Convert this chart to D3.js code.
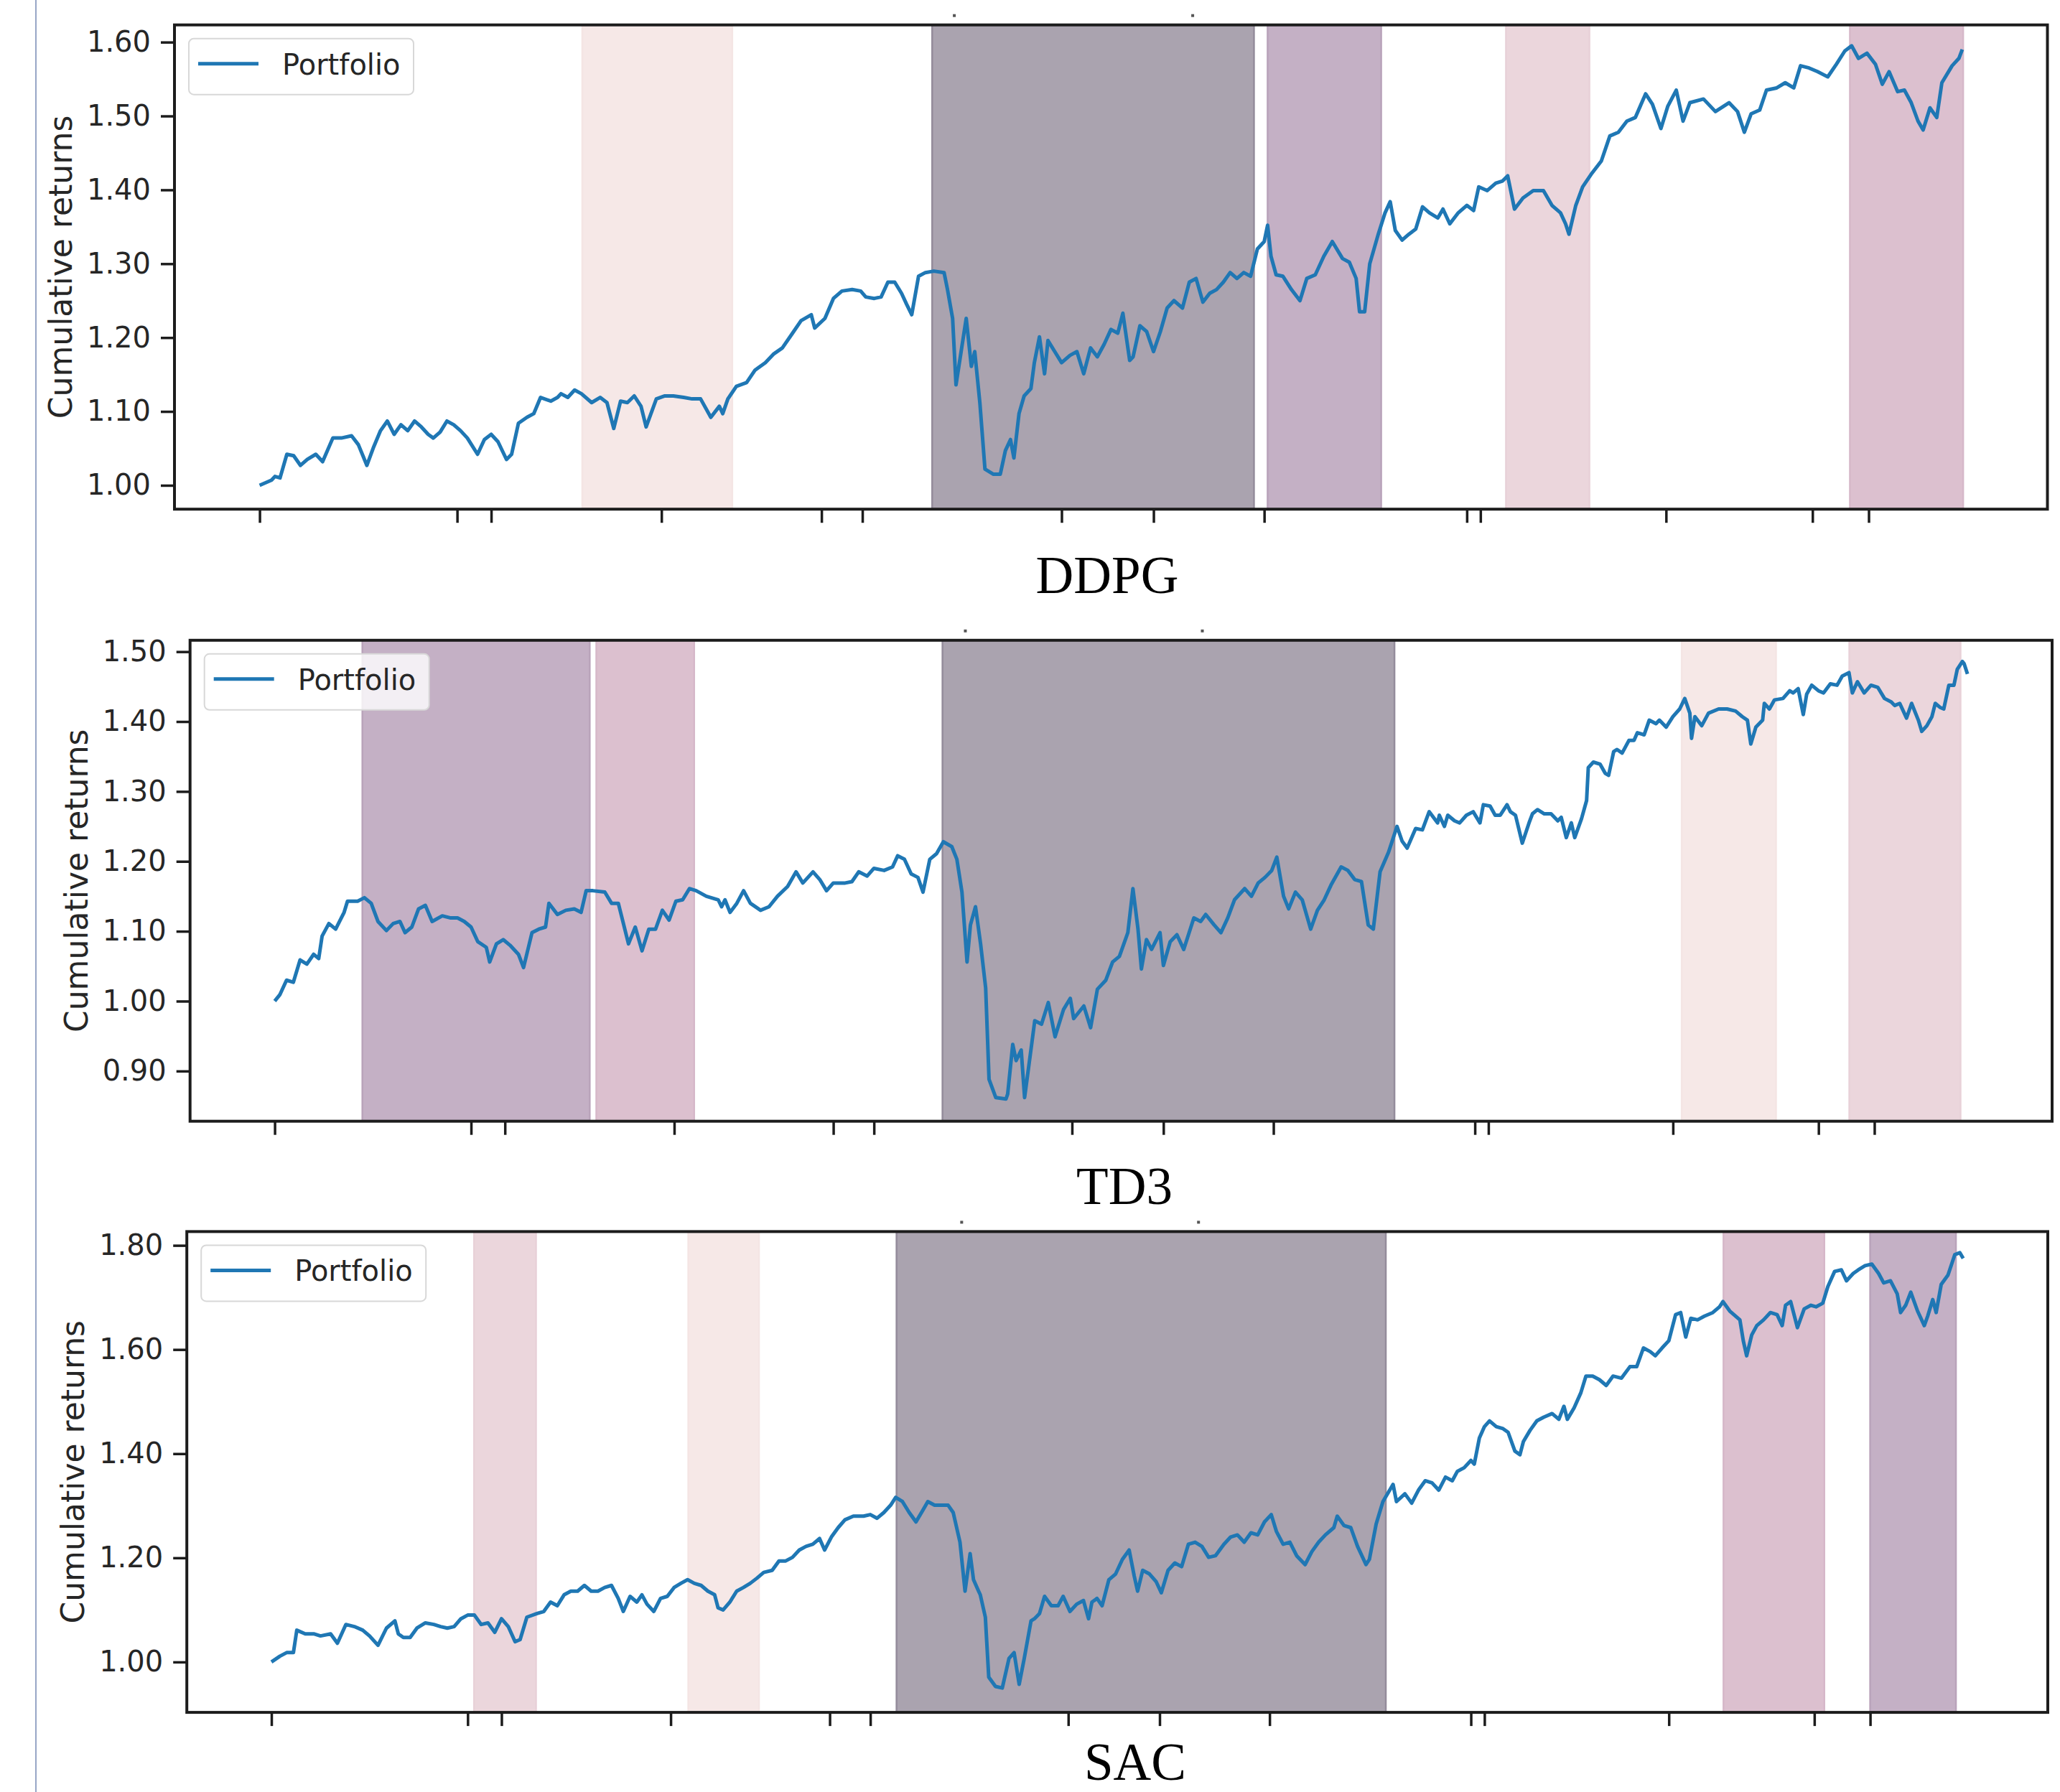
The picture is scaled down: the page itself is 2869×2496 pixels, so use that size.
<!DOCTYPE html>
<html>
<head>
<meta charset="utf-8">
<script src="https://cdn.jsdelivr.net/npm/d3@7/dist/d3.min.js"></script>
<style>
  body { margin: 0; background: #fff; }
  svg { display: block; }
</style>
</head>
<body>
<div id="chart"></div>
<script>
/* cumulative returns of three agents, with shaded market regimes behind each line */

// -----------------------------
// DATA (day index, cumulative return)
// -----------------------------
const dayDomain = [-50, 1050];
const xTicksMain = [0, 116, 236, 354, 471, 590, 709, 826, 945];
const xTicksOther = [136, 330, 525, 717, 912];
const topMarks = [408, 548];

const ddpgYTicks = [1.00, 1.10, 1.20, 1.30, 1.40, 1.50, 1.60];
const td3YTicks = [0.90, 1.00, 1.10, 1.20, 1.30, 1.40, 1.50];
const sacYTicks = [1.00, 1.20, 1.40, 1.60, 1.80];

const ddpgReturns = [[0,1.000],[7,1.007],[9,1.012],[12,1.010],[16,1.042],[20,1.040],[24,1.027],[28,1.035],[33,1.042],[37,1.032],[43,1.064],[48,1.064],[54,1.067],[58,1.055],[63,1.027],[67,1.052],[71,1.074],[75,1.087],[79,1.069],[83,1.082],[87,1.074],[91,1.087],[95,1.079],[99,1.069],[102,1.064],[106,1.072],[110,1.087],[114,1.082],[118,1.074],[122,1.064],[128,1.042],[132,1.062],[136,1.069],[140,1.059],[145,1.035],[148,1.042],[152,1.084],[157,1.092],[161,1.097],[165,1.119],[171,1.114],[175,1.119],[177,1.124],[181,1.119],[185,1.129],[189,1.124],[195,1.112],[200,1.119],[204,1.112],[208,1.077],[212,1.114],[216,1.112],[220,1.121],[224,1.107],[227,1.079],[233,1.117],[238,1.121],[243,1.121],[249,1.119],[254,1.117],[259,1.117],[265,1.092],[270,1.107],[272,1.097],[275,1.117],[280,1.134],[286,1.139],[291,1.156],[297,1.166],[302,1.178],[307,1.186],[313,1.206],[318,1.223],[324,1.231],[326,1.213],[332,1.226],[337,1.253],[342,1.263],[348,1.265],[353,1.263],[356,1.255],[361,1.253],[365,1.255],[369,1.275],[373,1.275],[377,1.260],[380,1.245],[383,1.231],[387,1.283],[391,1.288],[396,1.290],[402,1.288],[404,1.265],[407,1.226],[409,1.136],[412,1.181],[415,1.226],[418,1.161],[420,1.181],[423,1.112],[426,1.022],[431,1.015],[435,1.015],[438,1.047],[441,1.062],[443,1.037],[446,1.097],[449,1.121],[453,1.131],[455,1.166],[458,1.201],[461,1.151],[463,1.196],[467,1.181],[471,1.166],[476,1.176],[480,1.181],[484,1.151],[488,1.186],[492,1.174],[496,1.191],[500,1.211],[504,1.206],[507,1.233],[511,1.169],[513,1.174],[517,1.216],[521,1.208],[525,1.181],[529,1.208],[533,1.240],[537,1.250],[542,1.240],[546,1.275],[550,1.280],[554,1.248],[558,1.260],[562,1.265],[566,1.275],[570,1.288],[574,1.280],[578,1.288],[582,1.283],[586,1.320],[590,1.330],[592,1.352],[594,1.310],[597,1.285],[601,1.283],[606,1.265],[611,1.250],[615,1.280],[620,1.285],[625,1.310],[630,1.330],[636,1.307],[640,1.302],[644,1.280],[646,1.235],[649,1.235],[652,1.300],[657,1.340],[661,1.369],[664,1.384],[667,1.345],[671,1.332],[675,1.340],[679,1.347],[683,1.377],[687,1.369],[692,1.362],[695,1.374],[699,1.354],[704,1.369],[709,1.379],[713,1.372],[716,1.404],[721,1.399],[726,1.409],[730,1.412],[733,1.419],[737,1.374],[742,1.389],[748,1.399],[754,1.399],[759,1.379],[764,1.369],[767,1.354],[769,1.340],[773,1.379],[777,1.404],[782,1.421],[788,1.439],[793,1.473],[798,1.478],[803,1.493],[808,1.498],[814,1.530],[818,1.516],[823,1.483],[827,1.513],[832,1.535],[836,1.493],[840,1.518],[848,1.523],[855,1.506],[863,1.518],[868,1.506],[872,1.478],[876,1.503],[881,1.508],[885,1.535],[891,1.538],[896,1.545],[901,1.538],[905,1.568],[910,1.565],[915,1.560],[921,1.553],[926,1.570],[931,1.588],[935,1.595],[939,1.578],[944,1.585],[949,1.570],[953,1.543],[957,1.560],[962,1.533],[966,1.535],[970,1.518],[974,1.493],[977,1.481],[981,1.511],[985,1.498],[988,1.545],[994,1.568],[998,1.578],[1000,1.590]];

const td3Returns = [[0,1.000],[3,1.009],[7,1.030],[11,1.027],[15,1.059],[19,1.053],[23,1.067],[26,1.061],[28,1.093],[32,1.111],[36,1.103],[41,1.127],[43,1.143],[49,1.143],[53,1.148],[57,1.140],[61,1.114],[66,1.101],[70,1.111],[74,1.114],[77,1.098],[81,1.106],[85,1.132],[89,1.137],[93,1.114],[99,1.122],[104,1.119],[108,1.119],[112,1.114],[116,1.106],[120,1.085],[125,1.077],[127,1.056],[131,1.082],[135,1.088],[139,1.080],[144,1.067],[147,1.048],[152,1.098],[156,1.103],[160,1.106],[162,1.140],[167,1.124],[172,1.130],[177,1.132],[181,1.127],[184,1.158],[188,1.158],[195,1.156],[199,1.140],[203,1.140],[209,1.082],[213,1.106],[217,1.072],[221,1.103],[225,1.103],[229,1.130],[233,1.116],[237,1.143],[241,1.145],[245,1.161],[249,1.158],[255,1.150],[262,1.145],[264,1.135],[266,1.145],[269,1.127],[273,1.140],[277,1.158],[281,1.140],[287,1.130],[292,1.135],[297,1.150],[303,1.164],[308,1.185],[312,1.169],[318,1.185],[322,1.174],[326,1.158],[330,1.169],[337,1.169],[341,1.171],[345,1.185],[350,1.179],[354,1.190],[360,1.187],[365,1.192],[368,1.208],[372,1.203],[376,1.182],[380,1.177],[383,1.156],[387,1.203],[391,1.211],[395,1.228],[400,1.221],[403,1.203],[406,1.156],[409,1.056],[411,1.109],[414,1.135],[417,1.082],[420,1.019],[422,0.888],[426,0.862],[432,0.860],[433,0.867],[436,0.938],[438,0.915],[441,0.930],[443,0.862],[447,0.935],[449,0.972],[453,0.967],[457,0.998],[461,0.949],[466,0.988],[470,1.004],[472,0.975],[478,0.993],[482,0.962],[486,1.017],[491,1.030],[495,1.056],[499,1.064],[504,1.098],[507,1.161],[510,1.103],[512,1.046],[515,1.088],[518,1.074],[523,1.098],[525,1.051],[529,1.085],[533,1.095],[537,1.074],[543,1.119],[547,1.114],[550,1.124],[555,1.109],[559,1.098],[563,1.119],[567,1.145],[573,1.161],[577,1.150],[581,1.169],[585,1.177],[589,1.187],[592,1.206],[596,1.150],[599,1.132],[603,1.156],[607,1.145],[612,1.103],[616,1.130],[620,1.145],[624,1.166],[630,1.192],[634,1.187],[638,1.174],[642,1.171],[646,1.109],[649,1.103],[653,1.185],[658,1.213],[663,1.250],[666,1.229],[669,1.219],[674,1.247],[678,1.245],[682,1.271],[687,1.255],[688,1.266],[691,1.250],[693,1.266],[697,1.258],[700,1.255],[704,1.266],[708,1.271],[712,1.255],[714,1.281],[718,1.279],[721,1.266],[724,1.266],[728,1.281],[730,1.271],[733,1.266],[737,1.226],[741,1.255],[743,1.268],[746,1.274],[750,1.268],[754,1.268],[758,1.258],[760,1.263],[763,1.234],[766,1.255],[768,1.234],[772,1.261],[775,1.287],[776,1.334],[779,1.342],[783,1.339],[786,1.326],[788,1.323],[791,1.357],[793,1.360],[796,1.355],[800,1.373],[803,1.373],[805,1.384],[809,1.381],[812,1.402],[816,1.397],[818,1.402],[822,1.392],[826,1.407],[830,1.418],[833,1.433],[836,1.412],[837,1.376],[839,1.407],[843,1.394],[847,1.412],[853,1.418],[858,1.418],[863,1.415],[867,1.407],[870,1.402],[872,1.368],[875,1.392],[879,1.402],[880,1.426],[883,1.418],[886,1.431],[891,1.433],[895,1.444],[897,1.441],[900,1.447],[903,1.410],[905,1.439],[908,1.452],[912,1.444],[915,1.441],[919,1.454],[923,1.452],[926,1.465],[930,1.470],[932,1.441],[935,1.457],[939,1.441],[943,1.452],[947,1.449],[951,1.433],[955,1.428],[957,1.423],[960,1.426],[964,1.405],[967,1.426],[971,1.402],[973,1.386],[976,1.394],[979,1.407],[981,1.426],[984,1.420],[986,1.418],[989,1.452],[992,1.452],[994,1.475],[997,1.486],[998,1.483],[1000,1.468]];

const sacReturns = [[0,1.000],[5,1.011],[9,1.018],[13,1.018],[15,1.061],[20,1.054],[25,1.054],[29,1.050],[35,1.054],[39,1.036],[44,1.072],[49,1.068],[54,1.061],[58,1.050],[63,1.032],[68,1.065],[73,1.079],[75,1.054],[78,1.047],[82,1.047],[86,1.065],[91,1.075],[96,1.072],[100,1.068],[104,1.065],[108,1.068],[112,1.083],[116,1.090],[120,1.090],[124,1.072],[128,1.075],[132,1.057],[136,1.083],[140,1.068],[144,1.039],[147,1.043],[151,1.086],[157,1.093],[161,1.097],[165,1.115],[169,1.108],[173,1.129],[177,1.136],[181,1.136],[185,1.147],[189,1.136],[193,1.136],[197,1.143],[201,1.147],[205,1.122],[208,1.097],[212,1.126],[216,1.115],[219,1.129],[222,1.111],[226,1.097],[230,1.122],[234,1.126],[238,1.143],[242,1.151],[246,1.158],[250,1.151],[254,1.147],[258,1.136],[262,1.129],[264,1.104],[267,1.100],[271,1.115],[275,1.136],[279,1.143],[283,1.151],[287,1.161],[291,1.172],[296,1.176],[300,1.194],[304,1.194],[308,1.201],[312,1.215],[316,1.222],[320,1.226],[324,1.237],[327,1.215],[331,1.240],[335,1.258],[339,1.273],[344,1.280],[350,1.280],[354,1.283],[358,1.276],[362,1.287],[366,1.301],[369,1.316],[373,1.308],[377,1.287],[381,1.269],[385,1.291],[388,1.308],[392,1.301],[396,1.301],[400,1.301],[403,1.287],[407,1.230],[410,1.136],[413,1.208],[415,1.158],[418,1.136],[419,1.129],[422,1.086],[424,0.971],[428,0.953],[432,0.950],[436,1.007],[439,1.018],[442,0.957],[445,1.007],[449,1.079],[451,1.083],[454,1.093],[457,1.126],[461,1.108],[465,1.108],[468,1.126],[472,1.097],[476,1.111],[480,1.118],[483,1.083],[485,1.115],[488,1.122],[491,1.108],[495,1.158],[499,1.169],[503,1.197],[507,1.215],[510,1.165],[512,1.136],[515,1.176],[519,1.169],[523,1.154],[526,1.133],[530,1.176],[534,1.190],[538,1.183],[542,1.226],[546,1.230],[550,1.222],[554,1.201],[558,1.204],[563,1.226],[567,1.240],[571,1.244],[575,1.230],[579,1.248],[583,1.244],[587,1.269],[591,1.283],[594,1.251],[598,1.226],[602,1.230],[606,1.204],[611,1.187],[615,1.212],[619,1.230],[623,1.244],[628,1.258],[630,1.280],[634,1.262],[638,1.258],[642,1.222],[647,1.187],[649,1.197],[653,1.265],[657,1.308],[663,1.341],[665,1.308],[670,1.323],[674,1.305],[678,1.330],[682,1.348],[686,1.344],[690,1.330],[694,1.355],[698,1.348],[701,1.366],[705,1.373],[709,1.387],[711,1.380],[714,1.430],[717,1.452],[720,1.463],[724,1.452],[728,1.448],[731,1.441],[735,1.405],[738,1.398],[740,1.423],[744,1.445],[748,1.463],[752,1.470],[757,1.477],[761,1.466],[764,1.491],[766,1.466],[770,1.488],[774,1.517],[777,1.549],[781,1.549],[785,1.542],[789,1.531],[793,1.549],[798,1.545],[803,1.567],[807,1.567],[811,1.603],[815,1.596],[818,1.588],[822,1.603],[826,1.617],[830,1.667],[833,1.671],[836,1.624],[839,1.660],[843,1.657],[847,1.664],[852,1.671],[856,1.682],[858,1.692],[862,1.674],[868,1.657],[870,1.617],[872,1.588],[875,1.628],[878,1.646],[882,1.657],[886,1.671],[890,1.667],[893,1.646],[895,1.685],[898,1.692],[902,1.642],[906,1.678],[910,1.685],[913,1.682],[917,1.689],[920,1.721],[924,1.750],[928,1.753],[931,1.732],[935,1.746],[938,1.753],[942,1.761],[946,1.764],[950,1.746],[953,1.728],[957,1.732],[961,1.707],[963,1.671],[966,1.685],[969,1.710],[973,1.674],[977,1.646],[979,1.664],[982,1.696],[984,1.671],[987,1.725],[991,1.743],[995,1.782],[998,1.786],[1000,1.775]];

// shaded regimes: [start day, end day, regime]
const ddpgRegimes = [[189.5, 277.6, "blush"], [395, 584, "dark"], [592, 658.7, "purple"], [732, 781, "pink"], [934, 1000.5, "mauve"]];
const td3Regimes = [[51.8, 186.1, "purple"], [190, 247.8, "mauve"], [394.5, 661.5, "dark"], [831.2, 886.9, "blush"], [930.2, 995.9, "pink"]];
const sacRegimes = [[119.8, 156.4, "pink"], [246.4, 288.2, "blush"], [369.5, 658.7, "dark"], [858.3, 917.9, "mauve"], [945, 995.7, "purple"]];

// -----------------------------
// STYLE
// -----------------------------
const regimeFill = { dark: "#aaa3af", purple: "#c4b0c5", mauve: "#dcc0cf", pink: "#ebd6dc", blush: "#f6e8e7" };
const regimeEdge = { dark: "#948c9b", purple: "#b9a3ba", mauve: "#d6b8c9", pink: "#e8d1d8", blush: "#f4e5e4" };
const lineColor = "#1f77b4";
const ink = "#1c1c1c";

const width = 2869, height = 2496;

const svg = d3.select("#chart").append("svg")
    .attr("width", width)
    .attr("height", height)
    .style("background", "#fff");

// thin page border on the left side of the screenshot
svg.append("line")
    .attr("x1", 50).attr("x2", 50)
    .attr("y1", 0).attr("y2", height)
    .attr("stroke", "#97a6c6")
    .attr("stroke-width", 2);

// panel frames (pixel boxes of each screenshot)
const panels = [
    { series: ddpgReturns, regimes: ddpgRegimes, yTicks: ddpgYTicks, yDomain: [0.9677, 1.6233],
      left: 243, right: 2851.5, top: 34.7, bottom: 709.2, title: "DDPG", titleX: 1542, titleY: 826 },
    { series: td3Returns, regimes: td3Regimes, yTicks: td3YTicks, yDomain: [0.8282, 1.5163],
      left: 264.7, right: 2858, top: 891.8, bottom: 1561.7, title: "TD3", titleX: 1566, titleY: 1677 },
    { series: sacReturns, regimes: sacRegimes, yTicks: sacYTicks, yDomain: [0.9032, 1.8265],
      left: 260.2, right: 2852, top: 1715.4, bottom: 2385.1, title: "SAC", titleX: 1581, titleY: 2479 }
];

panels.forEach(drawPanel);

function drawPanel(p) {
    const g = svg.append("g");

    const x = d3.scaleLinear().domain(dayDomain).range([p.left, p.right]);
    const y = d3.scaleLinear().domain(p.yDomain).range([p.bottom, p.top]);

    // regime bands
    g.selectAll(".regime")
        .data(p.regimes)
        .join("rect")
        .attr("class", "regime")
        .attr("x", d => x(d[0]))
        .attr("width", d => x(d[1]) - x(d[0]))
        .attr("y", p.top)
        .attr("height", p.bottom - p.top)
        .attr("fill", d => regimeFill[d[2]])
        .attr("stroke", d => regimeEdge[d[2]])
        .attr("stroke-width", 2.5);

    // portfolio line
    const line = d3.line()
        .x(d => x(d[0]))
        .y(d => y(d[1]));

    g.append("path")
        .datum(p.series)
        .attr("fill", "none")
        .attr("stroke", lineColor)
        .attr("stroke-width", 5)
        .attr("stroke-linejoin", "round")
        .attr("d", line);

    // y axis
    const yAxis = g.append("g")
        .attr("transform", `translate(${p.left},0)`)
        .call(d3.axisLeft(y).tickValues(p.yTicks).tickFormat(d3.format(".2f")).tickSize(19).tickPadding(14));
    yAxis.select(".domain").remove();
    yAxis.selectAll(".tick line").attr("stroke", ink).attr("stroke-width", 3.5);
    yAxis.selectAll(".tick text")
        .attr("fill", "#262626")
        .style("font-family", "'DejaVu Sans', sans-serif")
        .style("font-size", "40px");

    // x axis (labels are cut off in the source screenshot)
    const xAxis = g.append("g")
        .attr("transform", `translate(0,${p.bottom})`)
        .call(d3.axisBottom(x).tickValues(xTicksMain.concat(xTicksOther)).tickFormat("").tickSize(19));
    xAxis.select(".domain").remove();
    xAxis.selectAll(".tick line").attr("stroke", ink).attr("stroke-width", 3.5);

    // stray marks above the frame
    g.selectAll(".top-mark")
        .data(topMarks)
        .join("rect")
        .attr("class", "top-mark")
        .attr("x", d => x(d) - 2)
        .attr("y", p.top - 15)
        .attr("width", 4)
        .attr("height", 4)
        .attr("fill", "#555");

    // frame
    g.append("rect")
        .attr("x", p.left)
        .attr("y", p.top)
        .attr("width", p.right - p.left)
        .attr("height", p.bottom - p.top)
        .attr("fill", "none")
        .attr("stroke", ink)
        .attr("stroke-width", 4);

    // legend
    const lx = p.left + 20, ly = p.top + 19;
    const legend = g.append("g").attr("transform", `translate(${lx},${ly})`);
    legend.append("rect")
        .attr("width", 313)
        .attr("height", 78)
        .attr("rx", 7)
        .attr("fill", "#fff")
        .attr("fill-opacity", 0.8)
        .attr("stroke", "#d8d8d8")
        .attr("stroke-width", 2);
    legend.append("line")
        .attr("x1", 13).attr("x2", 97)
        .attr("y1", 35).attr("y2", 35)
        .attr("stroke", lineColor)
        .attr("stroke-width", 5);
    legend.append("text")
        .attr("x", 130)
        .attr("y", 50)
        .attr("fill", "#262626")
        .style("font-family", "'DejaVu Sans', sans-serif")
        .style("font-size", "40px")
        .text("Portfolio");

    // y label
    g.append("text")
        .attr("transform", `translate(${p.left - 143},${(p.top + p.bottom) / 2}) rotate(-90)`)
        .attr("text-anchor", "middle")
        .attr("fill", "#262626")
        .style("font-family", "'DejaVu Sans', sans-serif")
        .style("font-size", "44px")
        .text("Cumulative returns");

    // algorithm caption
    g.append("text")
        .attr("x", p.titleX)
        .attr("y", p.titleY)
        .attr("text-anchor", "middle")
        .attr("fill", "#000")
        .style("font-family", "'Liberation Serif', 'Times New Roman', serif")
        .style("font-size", "73px")
        .text(p.title);
}
</script>
</body>
</html>
